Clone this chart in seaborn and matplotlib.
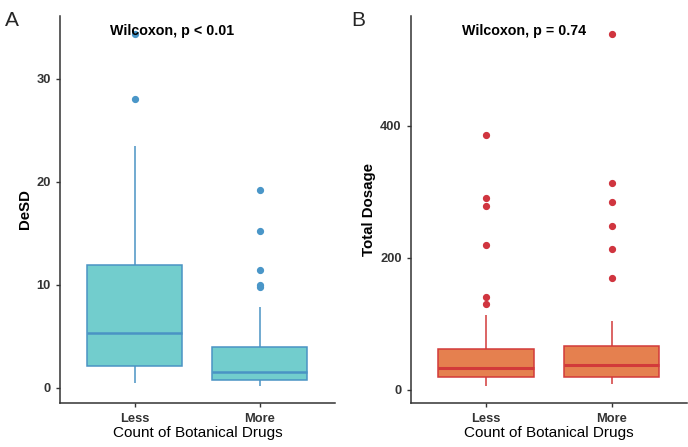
import matplotlib
matplotlib.use("Agg")
import matplotlib.pyplot as plt
import seaborn as sns
import pandas as pd

# ---- data ----
groups = ["Less", "More"]

# Panel A: DeSD box statistics per group
desd_low = [0.45, 0.2]
desd_q1 = [2.1, 0.77]
desd_median = [5.3, 1.5]
desd_q3 = [11.9, 3.9]
desd_high = [23.5, 7.8]
desd_outliers = [[28.0, 34.4], [9.8, 10.0, 11.4, 15.2, 19.2]]

# Panel B: Total Dosage box statistics per group
dose_low = [6.5, 8.6]
dose_q1 = [20.1, 20.0]
dose_median = [33.7, 37.3]
dose_q3 = [62.4, 67.0]
dose_high = [113.0, 104.0]
dose_outliers = [[129.5, 140.0, 220.0, 279.0, 291.0, 386.0],
                 [169.0, 212.6, 248.0, 284.0, 313.0, 539.0]]

p_labels = ["Wilcoxon, p < 0.01", "Wilcoxon, p = 0.74"]
y_labels = ["DeSD", "Total Dosage"]
x_label = "Count of Botanical Drugs"


def build_frame(low, q1, med, q3, high, outs, name):
    """Sample values whose quartiles/whiskers reproduce the read statistics."""
    rows = []
    for g, lo, a, m, b, hi, out in zip(groups, low, q1, med, q3, high, outs):
        k = len(out)
        rep = 2 * k + 4
        vals = [lo] * (1 + k) + [a] * rep + [m] + [b] * rep + [hi] + list(out)
        rows += [(g, v) for v in vals]
    return pd.DataFrame(rows, columns=["group", name])


df_a = build_frame(desd_low, desd_q1, desd_median, desd_q3, desd_high, desd_outliers, "DeSD")
df_b = build_frame(dose_low, dose_q1, dose_median, dose_q3, dose_high, dose_outliers, "Total Dosage")

sns.set_theme(style="ticks")
plt.rcParams["font.family"] = ["Liberation Sans", "DejaVu Sans"]

fig = plt.figure(figsize=(6.88, 4.47), dpi=100)
ax_a = fig.add_axes([0.0872, 0.0984, 0.3997, 0.8658])
ax_b = fig.add_axes([0.597, 0.0984, 0.4015, 0.8658])

styles = [
    dict(fill="#72CDCD", line="#4A93C4", pt="#4A96C8", med_lw=1.8),
    dict(fill="#E5804F", line="#D23A3A", pt="#D0353F", med_lw=2.2),
]

panels = [(ax_a, df_a, "DeSD", (-1.5, 36.1), [0, 10, 20, 30], "A"),
          (ax_b, df_b, "Total Dosage", (-20, 566), [0, 200, 400], "B")]

for i, (ax, df, col, ylim, yt, tag) in enumerate(panels):
    st = styles[i]
    sns.boxplot(data=df, x="group", y=col, order=groups, ax=ax,
                color=st["fill"], saturation=1, width=0.76,
                linecolor=st["line"], linewidth=1.1, showcaps=False,
                fliersize=4.2,
                flierprops=dict(marker="o", markerfacecolor=st["pt"],
                                markeredgecolor=st["pt"]),
                medianprops=dict(color=st["line"], linewidth=st["med_lw"]))
    ax.set_xlim(-0.6, 1.6)
    ax.set_ylim(*ylim)
    ax.set_yticks(yt)
    ax.set_xlabel(x_label, fontsize=11, color="black", labelpad=1)
    ax.set_ylabel(y_labels[i], fontsize=10.8, fontweight="bold", color="black", labelpad=3)
    for s in ["top", "right"]:
        ax.spines[s].set_visible(False)
    for s in ["left", "bottom"]:
        ax.spines[s].set_color("#333333")
        ax.spines[s].set_linewidth(1.1)
    ax.tick_params(axis="both", length=3, width=1, color="#333333",
                   labelsize=9.3, labelcolor="#333333")
    ax.tick_params(axis="y", pad=3.5)
    ax.tick_params(axis="x", pad=4)
    for lab in ax.get_xticklabels() + ax.get_yticklabels():
        lab.set_fontweight("bold")
    ax.text(0.3, ylim[1] - (ylim[1] - ylim[0]) * 0.038, p_labels[i],
            ha="center", va="center", fontsize=10.3, fontweight="bold", color="black")
    ax.set_facecolor("white")

fig.text(0.007, 0.975, "A", fontsize=15, ha="left", va="top")
fig.text(0.511, 0.975, "B", fontsize=15, ha="left", va="top")

fig.savefig("out.png", dpi=100, facecolor="white")
